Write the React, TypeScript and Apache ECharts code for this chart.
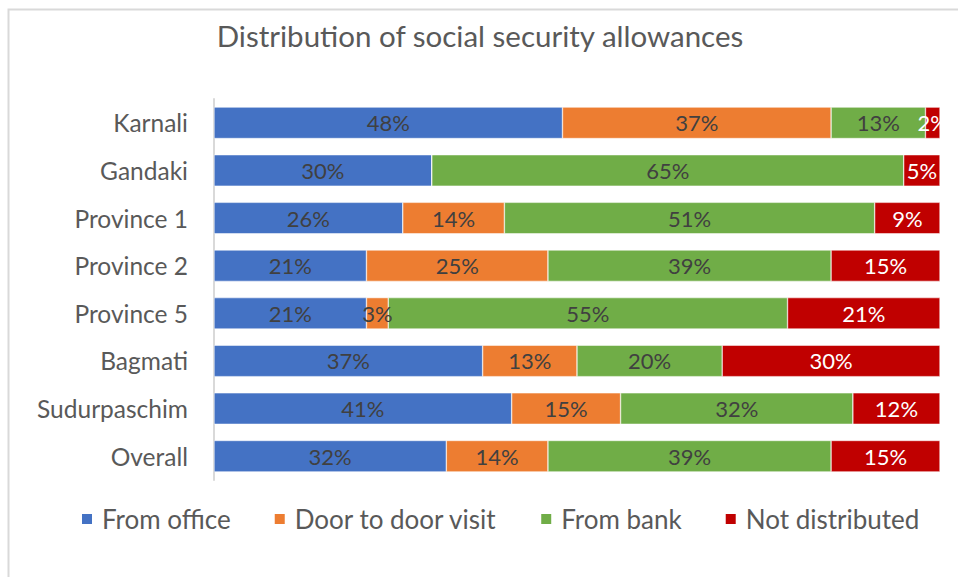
import React, { useEffect, useRef } from "react";
import * as echarts from "echarts";

const categories = ["Karnali", "Gandaki", "Province 1", "Province 2", "Province 5", "Bagmati", "Sudurpaschim", "Overall"];
const fromOffice = [48, 30, 26, 21, 21, 37, 41, 32];
const doorToDoor = [37, 0, 14, 25, 3, 13, 15, 14];
const fromBank = [13, 65, 51, 39, 55, 20, 32, 39];
const notDistributed = [2, 5, 9, 15, 21, 30, 12, 15];

const seriesNames = ["From office", "Door to door visit", "From bank", "Not distributed"];
const seriesColors = ["#4472C4", "#ED7D31", "#70AD47", "#C00000"];
const labelColors = ["#404040", "#404040", "#404040", "#FFFFFF"];

const FONT = "Lato";

export default function App() {
  const ref = useRef<HTMLDivElement>(null);
  useEffect(() => {
    if (!ref.current) return;
    const chart = echarts.init(ref.current, null, { renderer: "svg" });
    const datasets = [fromOffice, doorToDoor, fromBank, notDistributed];
    chart.setOption({
      animation: false,
      backgroundColor: "#ffffff",
      title: {
        text: "Distribution of social security allowances",
        left: 475,
        textAlign: "center",
        top: 15,
        textStyle: { fontFamily: FONT, fontSize: 29.5, fontWeight: "normal", color: "#595959" },
      },
      legend: {
        data: seriesNames,
        left: 80,
        top: 506,
        padding: 0,
        itemWidth: 12,
        itemHeight: 12,
        itemGap: 42,
        icon: "rect",
        textStyle: { fontFamily: FONT, fontSize: 26, color: "#595959", padding: [0, 0, 0, 4] },
      },
      grid: { left: 214, right: 18, top: 99, bottom: 97, containLabel: false },
      xAxis: { type: "value", min: 0, max: 100, show: false },
      yAxis: {
        type: "category",
        data: categories,
        inverse: true,
        axisLine: { show: true, lineStyle: { color: "#d9d9d9", width: 2 } },
        axisTick: { show: false },
        axisLabel: { fontFamily: FONT, fontSize: 24.5, color: "#595959", margin: 26 },
      },
      series: datasets.map((d, i) => ({
        name: seriesNames[i],
        type: "bar",
        stack: "total",
        data: d,
        barWidth: "66%",
        itemStyle: { color: seriesColors[i], borderColor: "#ffffff", borderWidth: 0.5 },
        label: {
          show: true,
          position: "inside",
          fontFamily: FONT,
          fontSize: 22,
          color: labelColors[i],
          formatter: (p: any) => (p.value === 0 ? "" : p.value + "%"),
        },
      })),
      graphic: [
        {
          type: "rect",
          shape: { x: 8.5, y: 9.5, width: 1000, height: 1000 },
          style: { fill: "none", stroke: "#d9d9d9", lineWidth: 2 },
          silent: true,
        },
      ],
    });
    return () => chart.dispose();
  }, []);
  return <div ref={ref} style={{ position: "fixed", left: 0, top: 0, width: 958, height: 577 }} />;
}
